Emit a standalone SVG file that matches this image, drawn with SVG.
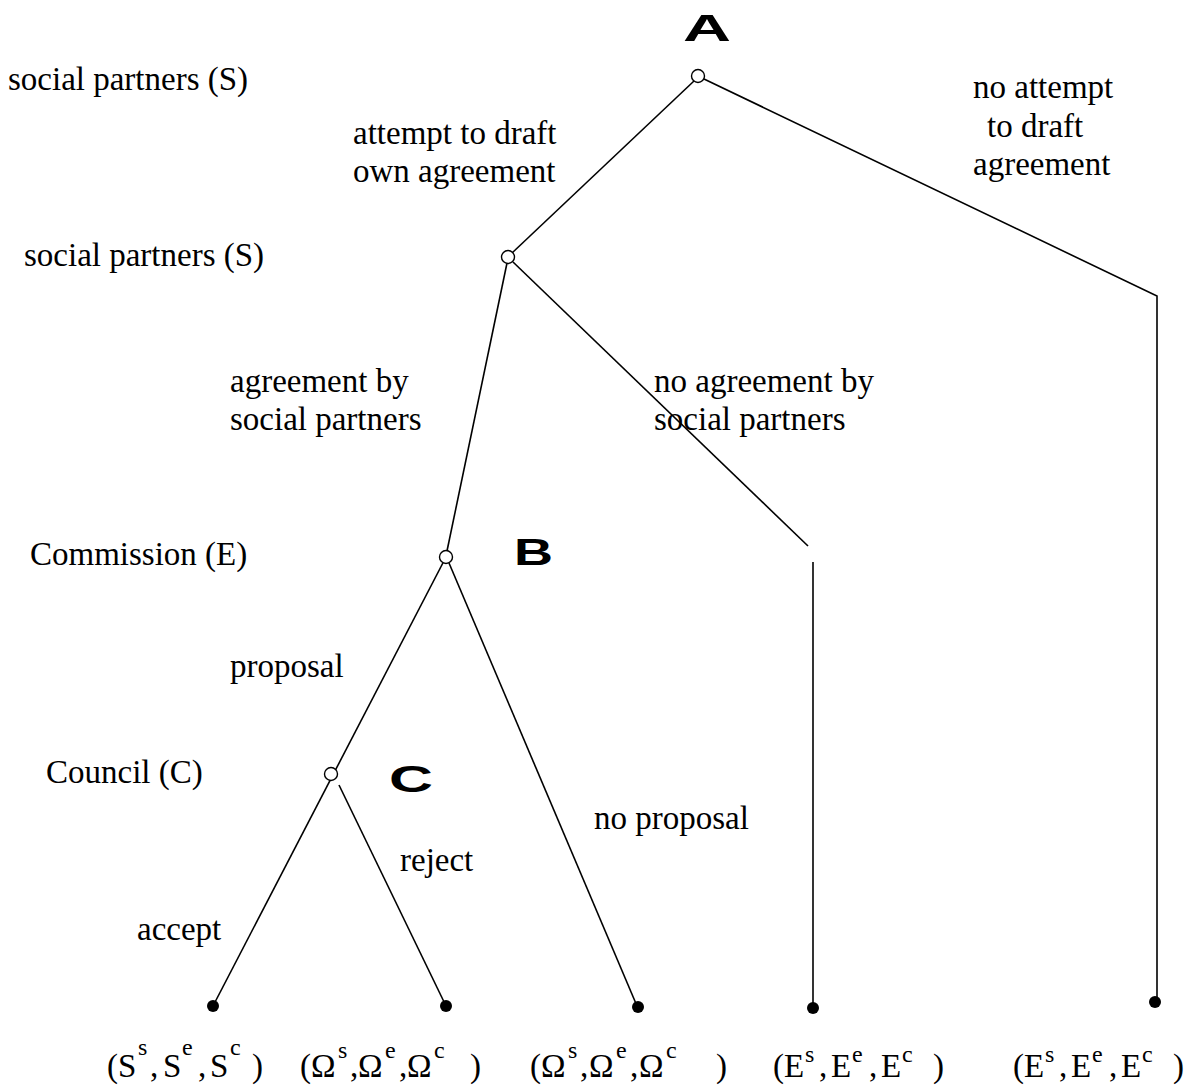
<svg xmlns="http://www.w3.org/2000/svg" width="1199" height="1091" viewBox="0 0 1199 1091">
<style>
.lbl{font-family:"Liberation Serif","Times New Roman",serif;font-size:33px;fill:#000}
.tup{font-family:"Liberation Serif","Times New Roman",serif;font-size:33px;fill:#000}
.sup{font-family:"Liberation Serif","Times New Roman",serif;font-size:24px;fill:#000}
.big{font-family:"Liberation Sans",Arial,sans-serif;font-weight:bold;font-size:37px;fill:#000}
.edge{stroke:#000;stroke-width:1.6;fill:none}
.dec{fill:#fff;stroke:#000;stroke-width:1.4}
.term{fill:#000}
</style>
<rect width="1199" height="1091" fill="#fff"/>
<g id="connectors">
<line class="edge" x1="694" y1="81" x2="512" y2="253"/>
<polyline class="edge" points="704,79 1157,296 1157,997"/>
<line class="edge" x1="507" y1="263" x2="447" y2="551"/>
<line class="edge" x1="513" y1="262" x2="808" y2="546"/>
<line class="edge" x1="813" y1="562" x2="813" y2="1003"/>
<line class="edge" x1="446" y1="557" x2="213" y2="1006"/>
<line class="edge" x1="339" y1="785" x2="446" y2="1006"/>
<line class="edge" x1="449" y1="563" x2="637" y2="1006"/>
</g>
<g id="nodeA"><circle class="dec" cx="698" cy="76" r="6.5"/><text class="big" x="683" y="41" textLength="48" lengthAdjust="spacingAndGlyphs">A</text></g>
<g id="nodeS"><circle class="dec" cx="508" cy="257" r="6.5"/></g>
<g id="nodeB"><circle class="dec" cx="446" cy="557" r="6.5"/><text class="big" x="514" y="565" textLength="39" lengthAdjust="spacingAndGlyphs">B</text></g>
<g id="nodeC"><circle class="dec" cx="331" cy="774" r="6.5"/><text class="big" x="389" y="792" textLength="44" lengthAdjust="spacingAndGlyphs">C</text></g>
<g id="leaf1"><circle class="term" cx="213" cy="1006" r="6"/></g>
<g id="leaf2"><circle class="term" cx="446" cy="1006" r="6"/></g>
<g id="leaf3"><circle class="term" cx="638" cy="1007" r="6"/></g>
<g id="leaf4"><circle class="term" cx="813" cy="1008" r="6"/></g>
<g id="leaf5"><circle class="term" cx="1155" cy="1002" r="6"/></g>
<g id="labels">
<text class="lbl" x="8" y="90">social partners (S)</text>
<text class="lbl" x="353" y="144">attempt to draft</text>
<text class="lbl" x="353" y="182">own agreement</text>
<text class="lbl" x="973" y="98">no attempt</text>
<text class="lbl" x="987" y="137">to draft</text>
<text class="lbl" x="973" y="175">agreement</text>
<text class="lbl" x="24" y="266">social partners (S)</text>
<text class="lbl" x="230" y="392">agreement by</text>
<text class="lbl" x="230" y="430">social partners</text>
<text class="lbl" x="654" y="392">no agreement by</text>
<text class="lbl" x="654" y="430">social partners</text>
<text class="lbl" x="30" y="565">Commission (E)</text>
<text class="lbl" x="230" y="677">proposal</text>
<text class="lbl" x="46" y="783">Council (C)</text>
<text class="lbl" x="594" y="829">no proposal</text>
<text class="lbl" x="400" y="871">reject</text>
<text class="lbl" x="137" y="940">accept</text>
</g>
<g id="payoffs">
<text class="tup" y="1077"><tspan x="107">(</tspan><tspan x="118">S</tspan><tspan x="150">,</tspan><tspan x="163">S</tspan><tspan x="198">,</tspan><tspan x="210">S</tspan><tspan x="252">)</tspan></text>
<text class="sup" y="1055"><tspan x="138">s</tspan><tspan x="182">e</tspan><tspan x="230">c</tspan></text>
<text class="tup" y="1077"><tspan x="300">(</tspan><tspan x="311">Ω</tspan><tspan x="350">,</tspan><tspan x="358">Ω</tspan><tspan x="399">,</tspan><tspan x="407">Ω</tspan><tspan x="470">)</tspan></text>
<text class="sup" y="1058"><tspan x="338">s</tspan><tspan x="385">e</tspan><tspan x="434">c</tspan></text>
<text class="tup" y="1077"><tspan x="530">(</tspan><tspan x="541">Ω</tspan><tspan x="580">,</tspan><tspan x="589">Ω</tspan><tspan x="630">,</tspan><tspan x="639">Ω</tspan><tspan x="716">)</tspan></text>
<text class="sup" y="1058"><tspan x="568">s</tspan><tspan x="616">e</tspan><tspan x="666">c</tspan></text>
<text class="tup" y="1077"><tspan x="773">(</tspan><tspan x="784">E</tspan><tspan x="819">,</tspan><tspan x="831">E</tspan><tspan x="869">,</tspan><tspan x="881">E</tspan><tspan x="933">)</tspan></text>
<text class="sup" y="1062"><tspan x="805">s</tspan><tspan x="852">e</tspan><tspan x="902">c</tspan></text>
<text class="tup" y="1077"><tspan x="1013">(</tspan><tspan x="1024">E</tspan><tspan x="1059">,</tspan><tspan x="1071">E</tspan><tspan x="1109">,</tspan><tspan x="1121">E</tspan><tspan x="1173">)</tspan></text>
<text class="sup" y="1062"><tspan x="1045">s</tspan><tspan x="1092">e</tspan><tspan x="1142">c</tspan></text>
</g>
</svg>
